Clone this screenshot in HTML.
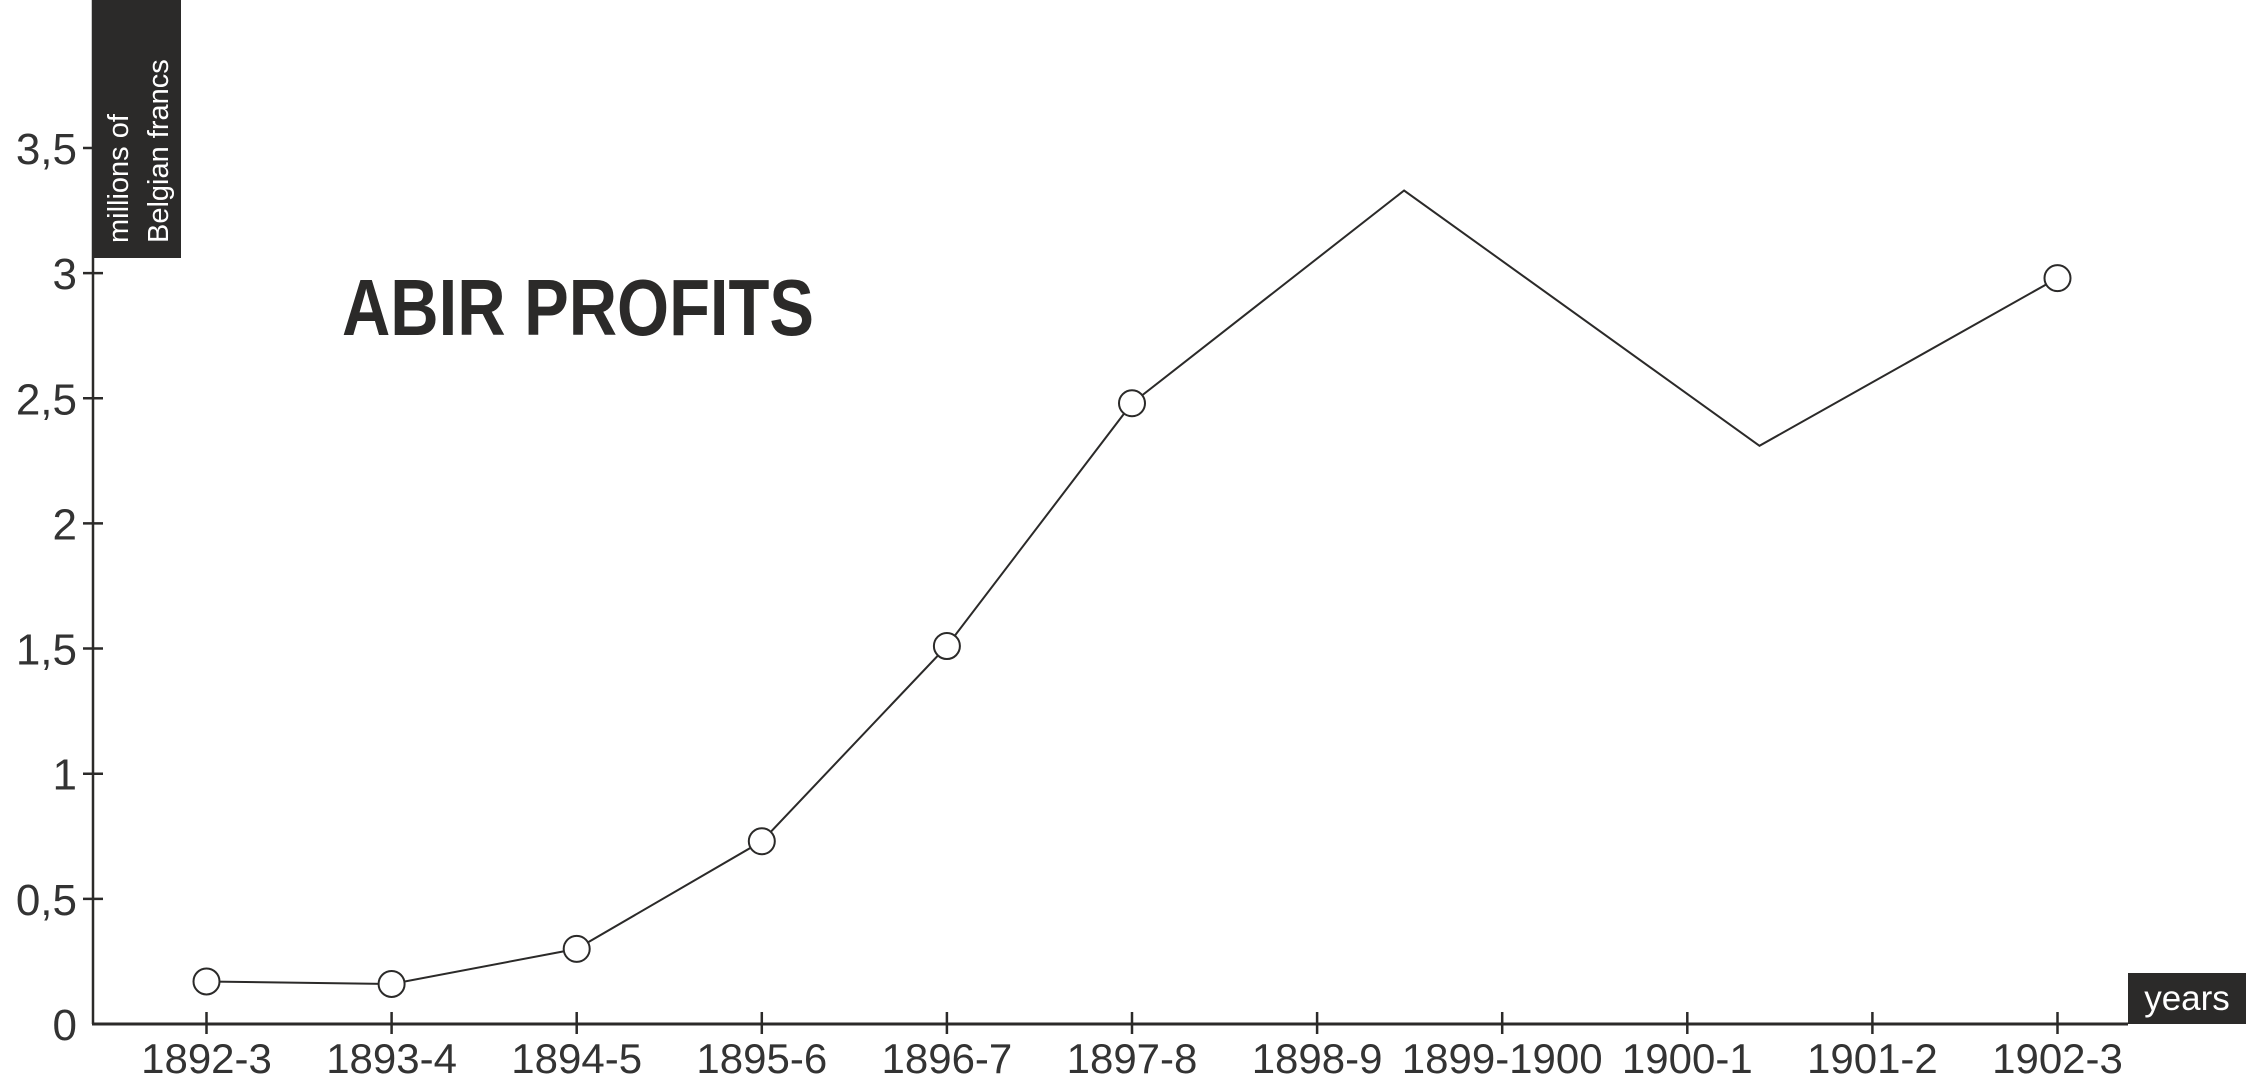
<!DOCTYPE html>
<html><head><meta charset="utf-8"><style>
html,body{margin:0;padding:0;background:#fff;}
svg{display:block;}
text{font-family:"Liberation Sans Narrow","Liberation Sans",sans-serif;}
</style></head><body>
<svg id="chart" width="2248" height="1075" viewBox="0 0 2248 1075" xmlns="http://www.w3.org/2000/svg">
<rect width="2248" height="1075" fill="#fff"/>
<g id="axes"></g>
<g id="series"></g>
<text x="342" y="335" font-family="Liberation Sans, sans-serif" font-weight="bold" font-size="80" fill="#2b2a29" textLength="472" lengthAdjust="spacingAndGlyphs">ABIR PROFITS</text>
<rect x="92" y="0" width="89" height="258" fill="#2b2a29"/>
<text transform="translate(128,243) rotate(-90)" font-family="Liberation Sans, sans-serif" font-size="29" fill="#fff">millions of</text>
<text transform="translate(168,243) rotate(-90)" font-family="Liberation Sans, sans-serif" font-size="29" fill="#fff">Belgian francs</text>
<rect x="2128" y="973" width="118" height="51" fill="#2b2a29"/>
<text x="2187" y="1010" text-anchor="middle" font-size="35" fill="#fff">years</text>
</svg>
<script>
const categories = ["1892-3","1893-4","1894-5","1895-6","1896-7","1897-8","1898-9","1899-1900","1900-1","1901-2","1902-3"];
const yTicks = [0,0.5,1,1.5,2,2.5,3,3.5];
const yTickLabels = ["0","0,5","1","1,5","2","2,5","3","3,5"];
const pointPos = [0,1,2,3,4,5,6.47,8.39,10];
const pointValues = [0.17,0.16,0.30,0.73,1.51,2.48,3.33,2.31,2.98];
const pointMarked = [true,true,true,true,true,true,false,false,true];

const x0 = 206.5, dx = 185.1, yBase = 1024, yUnit = 250.3;
function xs(i){ return x0 + dx*i; }
function ys(v){ return yBase - yUnit*v; }
const NS = "http://www.w3.org/2000/svg";
function mk(tag, attrs, parent){ const e=document.createElementNS(NS,tag); for(const k in attrs) e.setAttribute(k,attrs[k]); parent.appendChild(e); return e; }
const axes = document.getElementById('axes');
const series = document.getElementById('series');
const ink = "#2b2a29";

const ya = mk('line',{x1:93,y1:0,x2:93,y2:yBase,stroke:ink,'stroke-width':2.5},axes);


const xa = mk('line',{x1:92,y1:yBase,x2:2128,y2:yBase,stroke:ink,'stroke-width':3},axes);



yTicks.forEach((v,i)=>{
  if(v>0){
    const t = mk('line',{x1:83,y1:ys(v),x2:103,y2:ys(v),stroke:ink,'stroke-width':2.5},axes);
    
    
  }
  const l = mk('text',{x:77,y:ys(v)+16,'text-anchor':'end','font-size':44,fill:'#333'},axes);
  
  
  l.textContent = yTickLabels[i];
});
categories.forEach((c,i)=>{
  const t = mk('line',{x1:xs(i),y1:yBase-12,x2:xs(i),y2:yBase+10,stroke:ink,'stroke-width':2.5},axes);
  
  
  const l = mk('text',{x:xs(i),y:1073,'text-anchor':'middle','font-size':42,fill:'#333'},axes);
  
  
  l.textContent = c;
});
const pts = pointPos.map((p,i)=>xs(p)+','+ys(pointValues[i])).join(' ');
const line = mk('polyline',{points:pts,fill:'none',stroke:ink,'stroke-width':2},series);


pointPos.forEach((p,i)=>{
  if(!pointMarked[i]) return;
  const c = mk('circle',{cx:xs(p),cy:ys(pointValues[i]),r:13,fill:'#fff',stroke:ink,'stroke-width':2},series);
  
  
});
</script>
</body></html>
